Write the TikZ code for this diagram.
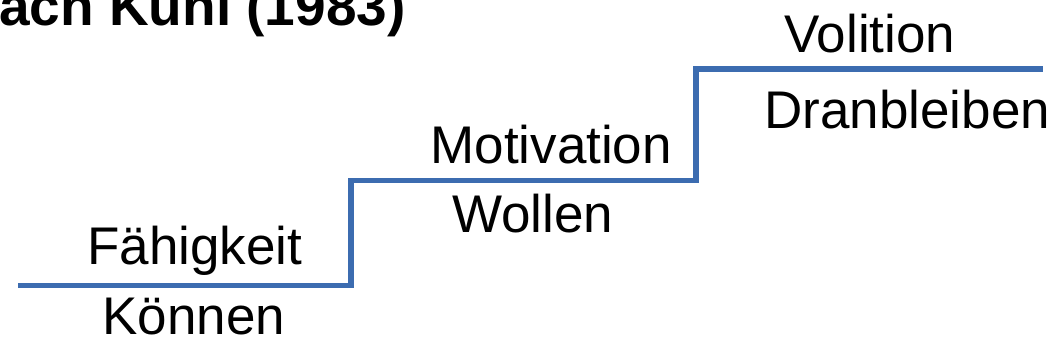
\documentclass[tikz,border=0pt]{standalone}
\usepackage{fontspec}
\setmainfont{Liberation Sans}
\definecolor{stepblue}{RGB}{60,108,176}
\begin{document}
\begin{tikzpicture}[x=0.5pt,y=-0.5pt,
  lbl/.style={inner sep=0pt,anchor=base west,font=\fontsize{26.5pt}{30pt}\selectfont},
  ttl/.style={inner sep=0pt,anchor=base east,font=\fontsize{27.5pt}{32pt}\selectfont\bfseries},
  stairs/.style={draw=stepblue,line width=2.75pt,line join=miter}]
\useasboundingbox (0,0) rectangle (1058,355);
\fill[white] (0,0) rectangle (1058,355);
\node[ttl] (title) at (406,25) {nach Kuhl (1983)};
\coordinate (s0) at (18,285.5);
\coordinate (s1) at (351,285.5);
\coordinate (s2) at (351,180.5);
\coordinate (s3) at (696,180.5);
\coordinate (s4) at (696,69);
\coordinate (s5) at (1043,69);
\draw[stairs] (s0) -- (s1) -- (s2) -- (s3) -- (s4) -- (s5);
\node[lbl] (faeh) at (87,264) {Fähigkeit};
\node[lbl] (koen) at (102,334) {Können};
\node[lbl] (moti) at (430,163) {Motivation};
\node[lbl] (woll) at (452,232) {Wollen};
\node[lbl] (voli) at (784,52) {Volition};
\node[lbl] (dran) at (764,128) {Dranbleiben};
\end{tikzpicture}
\end{document}
